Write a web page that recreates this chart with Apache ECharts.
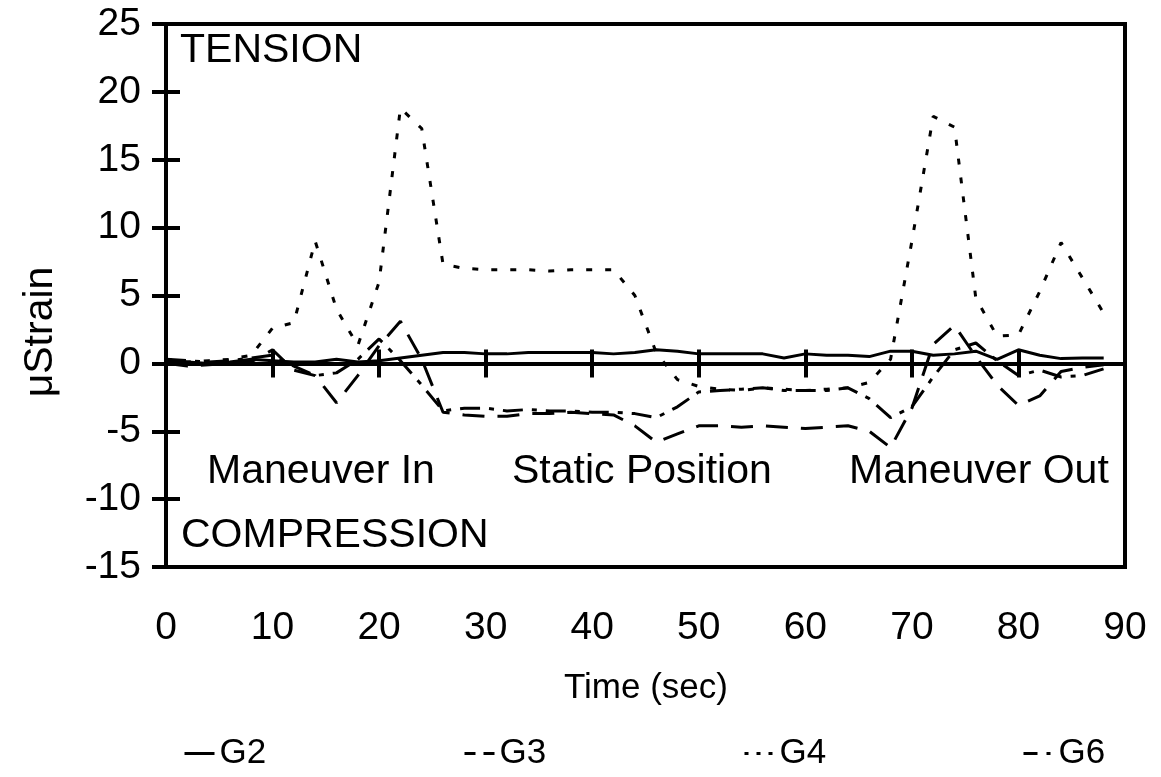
<!DOCTYPE html>
<html>
<head>
<meta charset="utf-8">
<script src="https://cdn.jsdelivr.net/npm/echarts@6/dist/echarts.min.js"></script>
<style>
html,body{margin:0;padding:0;background:#fff;}
#chart{width:1161px;height:777px;}
</style>
</head>
<body>
<div id="chart"></div>
<script>
var FONT = '"Liberation Sans", Arial, sans-serif';

// Time (sec)
var time = [0,2,4,6,8,10,12,14,16,18,20,22,24,26,28,30,32,34,36,38,40,42,44,46,48,50,52,54,56,58,60,62,64,66,68,70,72,74,76,78,80,82,84,86,88];

// μStrain per gauge
var G2 = [0.1,0.1,0.0,0.1,0.3,0.2,0.1,0.1,0.3,0.1,0.2,0.4,0.6,0.8,0.8,0.7,0.7,0.8,0.8,0.8,0.8,0.7,0.8,1.0,0.9,0.7,0.7,0.7,0.7,0.4,0.7,0.6,0.6,0.5,0.9,0.9,0.6,0.7,0.9,0.3,1.0,0.6,0.35,0.4,0.4];
var G3 = [0.0,-0.2,-0.1,0.0,0.1,1.0,-0.5,-0.9,-2.9,-0.9,1.3,3.1,0.3,-3.6,-3.8,-3.9,-3.9,-3.7,-3.7,-3.6,-3.7,-3.8,-4.6,-5.8,-5.2,-4.6,-4.6,-4.7,-4.6,-4.7,-4.8,-4.7,-4.6,-5.0,-6.2,-3.3,1.4,2.8,0.5,-1.6,-3.1,-2.4,-0.6,-0.3,-0.1];
var G4 = [0.3,0.1,0.2,0.3,0.6,2.6,3.0,9.0,4.0,1.3,6.0,18.8,17.3,7.3,7.0,6.9,6.9,6.9,6.8,6.9,6.9,6.9,5.0,0.8,-1.2,-1.7,-1.9,-2.0,-1.8,-1.9,-2.0,-1.9,-1.8,-1.4,0.3,9.0,18.2,17.4,4.8,2.0,2.1,5.3,8.9,6.3,3.7];
var G6 = [0.3,0.2,0.1,0.2,0.4,0.6,-0.2,-0.9,-0.7,0.3,1.8,0.2,-1.6,-3.5,-3.3,-3.3,-3.5,-3.4,-3.5,-3.5,-3.6,-3.6,-3.7,-4.0,-3.2,-2.1,-2.0,-1.9,-1.8,-2.0,-2.0,-2.0,-1.8,-2.6,-4.0,-3.2,-1.0,1.0,1.5,0.2,-0.9,-0.5,-1.0,-0.9,-0.4];

var seriesNames = ['G2','G3','G4','G6'];
var seriesValues = [G2, G3, G4, G6];
var lineTypes = ['solid', [22,13], [6,13], [20,9,5,9]];
var legendTypes = ['solid', [11,8], [4,8], [14,9,4,9]];
var legendLeft = [178, 458, 738, 1017];

var yTicks = [-15,-10,-5,0,5,10,15,20,25];

function pairs(vals){
  var out = [];
  for (var i = 0; i < time.length; i++) out.push([time[i], vals[i]]);
  return out;
}

var chart = echarts.init(document.getElementById('chart'), null, {renderer:'canvas'});

var series = seriesNames.map(function(n, i){
  return {
    name: n, type: 'line', xAxisIndex: 0, yAxisIndex: 0,
    data: pairs(seriesValues[i]),
    symbol: 'none', showSymbol: false, smooth: false,
    lineStyle: {color:'#000', width: 3, type: lineTypes[i]},
    itemStyle: {color:'#000'},
    z: 5
  };
});

var legends = seriesNames.map(function(n, i){
  return {
    data: [n], left: legendLeft[i], top: 731,
    itemWidth: 30, itemHeight: 14, itemGap: 0,
    textStyle: {fontFamily: FONT, fontSize: 35, color:'#000'},
    lineStyle: {type: legendTypes[i], width: 3, color:'#000'},
    itemStyle: {opacity: 0, color: 'rgba(0,0,0,0)', borderWidth: 0},
    selectedMode: false
  };
});

var common = {min: 0, max: 90, interval: 10, type: 'value', position: 'bottom', splitLine:{show:false}};
var ycommon = {min: -15, max: 25, interval: 5, type: 'value', position: 'left', splitLine:{show:false}};

chart.setOption({
  animation: false,
  backgroundColor: '#fff',
  grid: {left: 166, right: 36, top: 24, bottom: 210, containLabel: false, outerBoundsMode: 'none',
         show: true, borderColor: '#000', borderWidth: 4, backgroundColor: 'transparent'},
  xAxis: [
    Object.assign({}, common, {
      axisLine: {show: false, onZero: false},
      axisTick: {show: false},
      axisLabel: {fontFamily: FONT, fontSize: 39, color: '#000', margin: 42}
    }),
    Object.assign({}, common, {
      axisLine: {show: true, onZero: true, lineStyle: {color:'#000', width: 4}},
      axisTick: {show: true, inside: false, length: 14, lineStyle:{color:'#000', width: 4}},
      axisLabel: {show: false}
    }),
    Object.assign({}, common, {
      axisLine: {show: true, onZero: true, lineStyle: {color:'#000', width: 4}},
      axisTick: {show: true, inside: true, length: 14, lineStyle:{color:'#000', width: 4}},
      axisLabel: {show: false}
    })
  ],
  yAxis: [
    Object.assign({}, ycommon, {
      axisLine: {show: true, onZero: false, lineStyle:{color:'#000', width: 4}},
      axisTick: {show: true, inside: false, length: 14, lineStyle:{color:'#000', width: 4}},
      axisLabel: {fontFamily: FONT, fontSize: 39, color:'#000', margin: 25,
                  formatter: function(v){ return yTicks.indexOf(v) >= 0 ? String(v) : ''; }}
    }),
    Object.assign({}, ycommon, {
      axisLine: {show: false, onZero: false},
      axisTick: {show: true, inside: true, length: 14, lineStyle:{color:'#000', width: 4}},
      axisLabel: {show: false}
    })
  ],
  legend: legends,
  series: series,
  graphic: [
    {type:'text', left: 180, top: 30, style:{text:'TENSION', font:'41px ' + FONT, fill:'#000'}},
    {type:'text', left: 181, top: 515, style:{text:'COMPRESSION', font:'41px ' + FONT, fill:'#000'}},
    {type:'text', left: 207, top: 451, style:{text:'Maneuver In', font:'41px ' + FONT, fill:'#000'}},
    {type:'text', left: 512, top: 451, style:{text:'Static Position', font:'41px ' + FONT, fill:'#000'}},
    {type:'text', left: 849, top: 451, style:{text:'Maneuver Out', font:'41px ' + FONT, fill:'#000'}},
    {type:'text', x: 646, y: 688, style:{text:'Time (sec)', font:'35px ' + FONT, fill:'#000', align:'center', verticalAlign:'middle'}},
    {type:'text', x: 41, y: 332, rotation: Math.PI/2,
     style:{text:'\u03bcStrain', font:'41px ' + FONT, fill:'#000', align:'center', verticalAlign:'middle'}}
  ]
});
</script>
</body>
</html>
